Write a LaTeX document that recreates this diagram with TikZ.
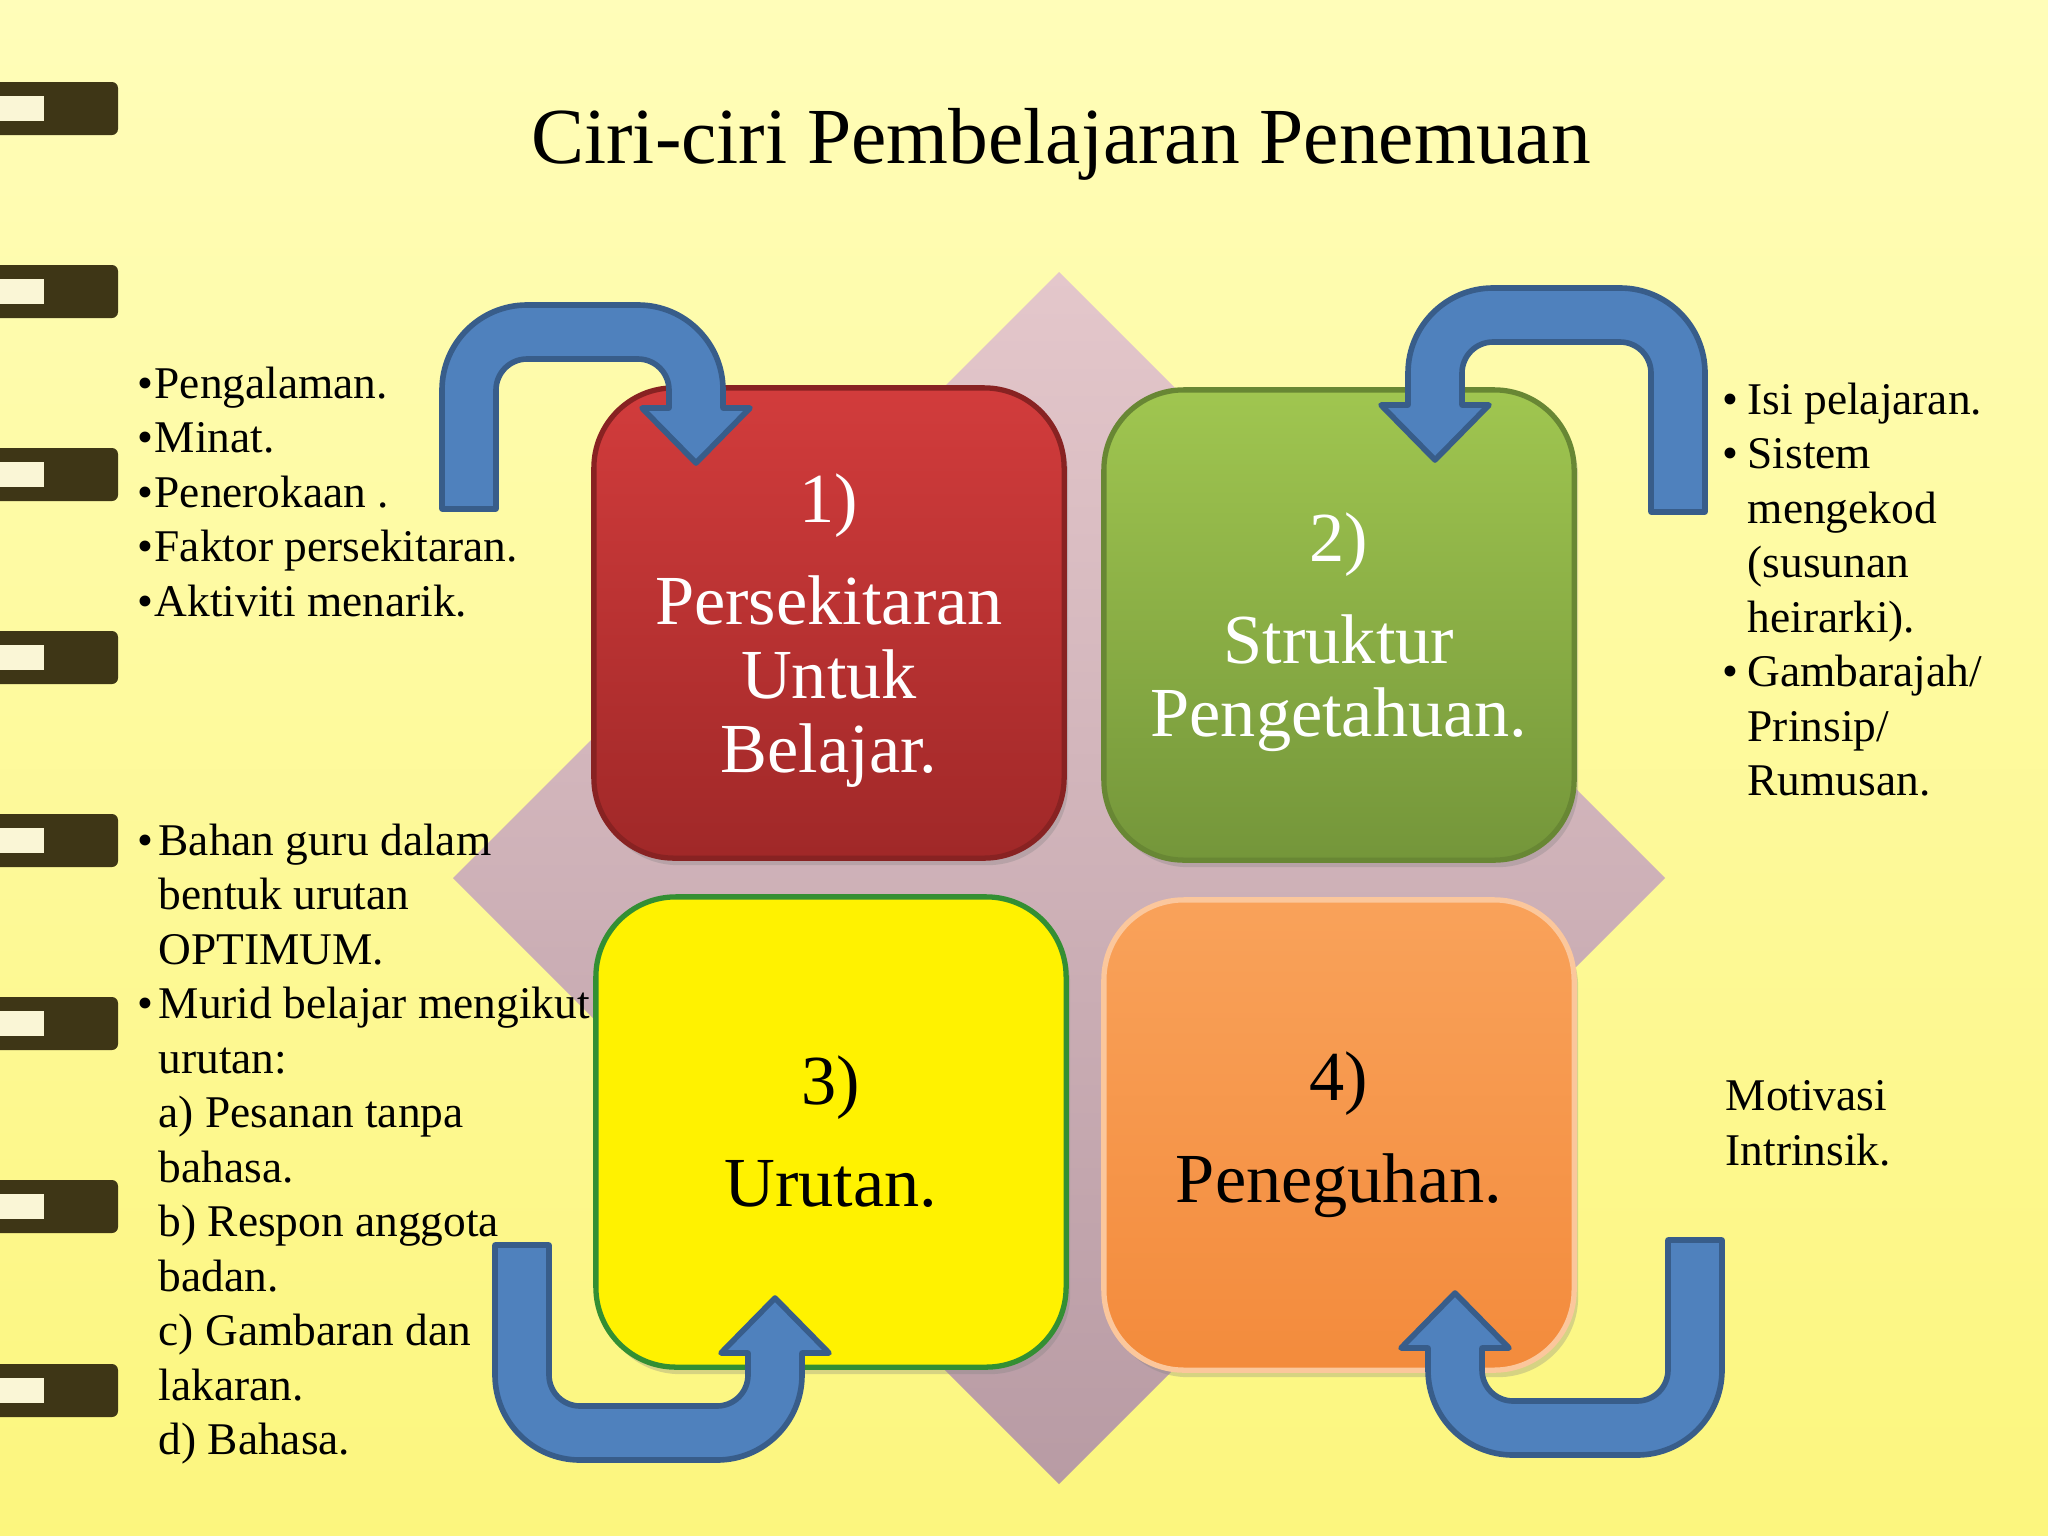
\documentclass[tikz,border=0pt]{standalone}
\usepackage{fontspec}
\setmainfont{Liberation Serif}
\usetikzlibrary{shadows}

\definecolor{bgtop}{HTML}{FFFDB9}
\definecolor{bgbottom}{HTML}{FCF67E}
\definecolor{ringdark}{HTML}{3E3616}
\definecolor{ringlight}{HTML}{FAF6D6}
\definecolor{kitetop}{HTML}{E4C7CB}
\definecolor{kitebottom}{HTML}{B89BA4}
\definecolor{redtop}{HTML}{D23C3C}
\definecolor{redbottom}{HTML}{A02828}
\definecolor{greentop}{HTML}{A0C650}
\definecolor{greenbottom}{HTML}{74963A}
\definecolor{orangetop}{HTML}{F9A25A}
\definecolor{orangebottom}{HTML}{F38B3C}
\definecolor{arrowfill}{HTML}{4F81BD}
\definecolor{arrowline}{HTML}{385D8A}

\newcommand{\bul}[1]{\makebox[#1][l]{\textbullet}}
% u-turn arrow: #1 placement, #2 span, #3 tail length, #4 head base
\newcommand{\uturn}[4]{%
\draw[uarrow,#1] (0,#3) -- (0,85) arc[start angle=180,end angle=270,radius=85]
  -- ({#2-85},0) arc[start angle=270,end angle=360,radius=85]
  -- (#2,#4) -- ({#2+27},#4) -- ({#2-27},{#4+55}) -- ({#2-81},#4) -- ({#2-54},#4)
  -- ({#2-54},85) arc[start angle=0,end angle=-90,radius=31]
  -- (85,54) arc[start angle=270,end angle=180,radius=31]
  -- (54,#3) -- cycle;}

\tikzset{
  box/.style={rounded corners=0.8cm, minimum width=4.7cm, minimum height=4.7cm,
    line width=1.5pt, align=center, font=\fontsize{20}{21}\selectfont,
    drop shadow={shadow xshift=0.04cm, shadow yshift=-0.07cm, opacity=0.3}},
  uarrow/.style={fill=arrowfill, draw=arrowline, line width=1.6pt, line join=round},
  note/.style={anchor=north west, inner sep=0pt, align=left,
    font=\fontsize{12.9}{15.5}\selectfont}
}

\begin{document}
\begin{tikzpicture}[x=0.01cm, y=-0.01cm]
\useasboundingbox (0,0) rectangle (2048,1536);
\shade[top color=bgtop, bottom color=bgbottom] (0,0) rectangle (2048,1536);

% binder rings
\foreach \yc in {109,292,475,658,841,1024,1207,1391}{
  \fill[ringdark, rounded corners=0.06cm] (-10,\yc-27) rectangle (118,\yc+26);
  \fill[ringlight] (-10,\yc-13) rectangle (44,\yc+12);
}

\node[anchor=base, font=\fontsize{22.6}{27}\selectfont] (title) at (1061,163)
  {Ciri-ciri Pembelajaran Penemuan};

% background diamond
\shade[top color=kitetop, bottom color=kitebottom]
  (1059,272) coordinate (kite-n) -- (1665,878) coordinate (kite-e)
  -- (1059,1484) coordinate (kite-s) -- (453,878) coordinate (kite-w) -- cycle;

\node[box, top color=redtop, bottom color=redbottom, draw=redbottom!85!black, text=white]
  (persekitaran) at (829,623) {\rule{0pt}{18pt}1)\\[8pt]Persekitaran\\Untuk\\Belajar.};
\node[box, top color=greentop, bottom color=greenbottom, draw=greenbottom!90!black, text=white]
  (struktur) at (1339,625) {\rule{0pt}{18pt}2)\\[8pt]Struktur\\Pengetahuan.};
\node[box, fill=yellow, draw=green!45!black!80] (urutan) at (831,1132) {3)\\[8pt]Urutan.};
\node[box, top color=orangetop, bottom color=orangebottom, draw=orangetop!60!white]
  (peneguhan) at (1339,1135) {4)\\[8pt]Peneguhan.};

\uturn{shift={(442,305)}}{281}{204}{103}
\uturn{shift={(1705,288)},xscale=-1}{297}{224}{117}
\uturn{shift={(495,1460)},yscale=-1}{307}{215}{107}
\uturn{shift={(1722,1455)},xscale=-1,yscale=-1}{294}{215}{107}

\node[note] (faktor) at (137,366) {\bul{0.17cm}Pengalaman.\\\bul{0.17cm}Minat.\\
  \bul{0.17cm}Penerokaan .\\\bul{0.17cm}Faktor persekitaran.\\\bul{0.17cm}Aktiviti menarik.};
\node[note] (bahan) at (137,823) {\bul{0.21cm}Bahan guru dalam\\\hspace*{0.21cm}bentuk urutan\\
  \hspace*{0.21cm}OPTIMUM.\\\bul{0.21cm}Murid belajar mengikut\\\hspace*{0.21cm}urutan:\\
  \hspace*{0.21cm}a) Pesanan tanpa\\\hspace*{0.21cm}bahasa.\\\hspace*{0.21cm}b) Respon anggota\\
  \hspace*{0.21cm}badan.\\\hspace*{0.21cm}c) Gambaran dan\\\hspace*{0.21cm}lakaran.\\
  \hspace*{0.21cm}d) Bahasa.};
\node[note] (isi) at (1722,382) {\bul{0.25cm}Isi pelajaran.\\\bul{0.25cm}Sistem\\
  \hspace*{0.25cm}mengekod\\\hspace*{0.25cm}(susunan\\\hspace*{0.25cm}heirarki).\\
  \bul{0.25cm}Gambarajah/\\\hspace*{0.25cm}Prinsip/\\\hspace*{0.25cm}Rumusan.};
\node[note] (motivasi) at (1725,1080) {Motivasi\\Intrinsik.};
\end{tikzpicture}
\end{document}
